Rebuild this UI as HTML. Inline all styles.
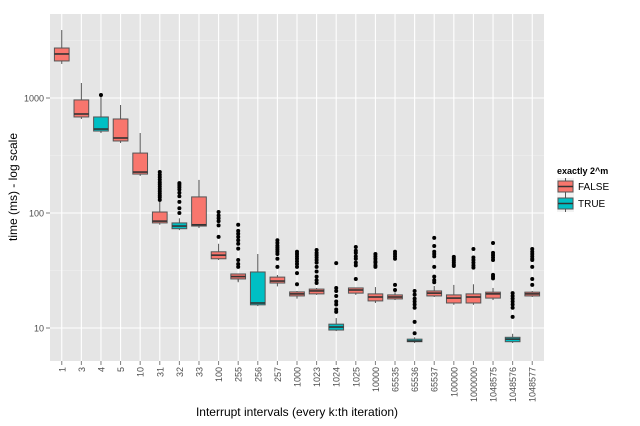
<!DOCTYPE html>
<html><head><meta charset="utf-8"><style>
body{margin:0;background:#fff;}
svg{display:block;font-family:"Liberation Sans",sans-serif;}
</style></head><body>
<svg id="chart" width="640" height="426">
<rect x="50" y="14" width="494" height="347" fill="#E5E5E5"/>
<g id="grid"></g><g id="marks"></g><g id="axes"></g>
<text x="17" y="187" transform="rotate(-90 17 187)" text-anchor="middle" font-size="12">time (ms) - log scale</text>
<text x="297" y="416" text-anchor="middle" font-size="12">Interrupt intervals (every k:th iteration)</text>
<g>
<text x="557" y="174" font-size="9" font-weight="bold">exactly 2^m</text>
<g>
<rect x="557" y="178" width="17" height="17" fill="#F2F2F2"/>
<line x1="565.5" y1="178" x2="565.5" y2="195" stroke="#555"/>
<rect x="558" y="181" width="15" height="11" fill="#F8766D" stroke="#555"/>
<line x1="558" y1="186.5" x2="573" y2="186.5" stroke="#333" stroke-width="1.5"/>
<text x="578" y="190" font-size="10">FALSE</text></g>
<g>
<rect x="557" y="195" width="17" height="17" fill="#F2F2F2"/>
<line x1="565.5" y1="195" x2="565.5" y2="212" stroke="#555"/>
<rect x="558" y="198" width="15" height="11" fill="#00BFC4" stroke="#555"/>
<line x1="558" y1="203.5" x2="573" y2="203.5" stroke="#333" stroke-width="1.5"/>
<text x="578" y="207" font-size="10">TRUE</text></g>
</g>
</svg>
<script>
const categories=["1","3","4","5","10","31","32","33","100","255","256","257","1000","1023","1024","1025","10000","65535","65536","65537","100000","1000000","1048575","1048576","1048577"];
const isPow2=[false,false,true,false,false,false,true,false,false,false,true,false,false,false,true,false,false,false,true,false,false,false,false,true,false];
const whiskerHigh=[3900,1350,1062,869,496,130,90,194,54,25.5,44,28.9,21,22.3,12.2,22.3,22.7,20.5,8.3,23.2,23.7,24,22.3,8.9,21];
const q3=[2720,962,684,657,332,102,82,138,46,29.5,30.7,27.7,20.6,21.8,10.8,22.3,19.8,19.4,8.0,21,19.4,19.8,20.5,8.3,20.5];
const medians=[2415,726,537,449,227,85,77,79,43,28,16.5,25.6,19.8,21,10.2,21.4,18.6,18.6,7.7,20.1,18.2,18.6,19.8,8.0,19.8];
const q1=[2100,684,516,423,218,82,73,77,40,26.7,15.9,24.6,19,19.8,9.6,20.1,17.2,17.9,7.6,19,16.5,16.5,18.2,7.6,19];
const whiskerLow=[1977,657,496,406,210,79,71,74,39,25,15.5,23,18,19.4,9.4,19.4,16.5,17.5,7.4,18.6,15.9,15.9,17.5,7.4,18.6];
const outliers=[[],[],[1062],[],[],
[227,215,205,195,185,178,170,162,155,148,142,137,130],
[182,175,168,160,150,140,125,110,100],
[],
[102,95,90,85,78,62],
[79,70,66,62,58,54,49,39,36,34],
[],
[58,55,52,50,48,46,44,40,34],
[46,44,42,40,38,36,34,30,24],
[47.7,45,43,41,39,37,34,31,28,26,24.6],
[36.7,22.3,21,19,17,16,14.5,13.8],
[50.6,47,45,42,40,37,35,26.7],
[44,42,40,38,37,35,34],
[46,44,42,40,23.7,21.4],
[21,19.5,18,17,16,15,11.3,9],
[60.7,51.7,46,44,42,34,28,26,25],
[41.5,40,38.5,37,35.5,34.6],
[48.6,41,39,37,35,33.5],
[54.9,45,43,41,39,29,28,27],
[20.1,19,18,17,16,15,12.5],
[48.6,46,44,42,40,39,34,26.7,23.7]];
const yTicks=[10,100,1000];
const ns="http://www.w3.org/2000/svg";
const PL=50,PR=544,PT=14,PB=361;
const step=(PR-PL)/(categories.length-1+1.2);
function xs(i){return PL+0.6*step+i*step;}
function ys(v){return 328-115*Math.log10(v/10);}
function mk(tag,attrs,parent){const e=document.createElementNS(ns,tag);for(const k in attrs)e.setAttribute(k,attrs[k]);parent.appendChild(e);return e;}
const grid=document.getElementById('grid'),marks=document.getElementById('marks'),axes=document.getElementById('axes');
// minor grid
for(let k=-1;k<4;k++){const y=ys(Math.pow(10,k+0.5)*10/10);if(y>PT&&y<PB){const l=mk('line',{x1:PL,x2:PR,y1:y,y2:y,stroke:'#F2F2F2','stroke-width':0.6},grid);

}}
yTicks.forEach(t=>{const y=ys(t);
const l=mk('line',{x1:PL,x2:PR,y1:y,y2:y,stroke:'#fff','stroke-width':1.1},grid);


mk('line',{x1:PL-4,x2:PL,y1:y,y2:y,stroke:'#7f7f7f'},axes);
const tx=mk('text',{x:PL-6,y:y+3.5,'text-anchor':'end','font-size':9,fill:'#4d4d4d'},axes);tx.textContent=t;

});
categories.forEach((c,i)=>{const x=xs(i);
const l=mk('line',{x1:x,x2:x,y1:PT,y2:PB,stroke:'#fff','stroke-width':1.1},grid);


mk('line',{x1:x,x2:x,y1:PB,y2:PB+4,stroke:'#7f7f7f'},axes);
const tx=mk('text',{x:x+3.5,y:PB+6,'text-anchor':'end','font-size':9,fill:'#4d4d4d',transform:`rotate(-90 ${x+3.5} ${PB+6})`},axes);tx.textContent=c;


const g=mk('g',{},marks);


const w=step*0.75;
mk('line',{x1:x,x2:x,y1:ys(whiskerHigh[i]),y2:ys(q3[i]),stroke:'#555'},g);
mk('line',{x1:x,x2:x,y1:ys(q1[i]),y2:ys(whiskerLow[i]),stroke:'#555'},g);
mk('rect',{x:x-w/2,y:ys(q3[i]),width:w,height:Math.max(1,ys(q1[i])-ys(q3[i])),fill:isPow2[i]?'#00BFC4':'#F8766D',stroke:'#555','stroke-width':1},g);
mk('line',{x1:x-w/2,x2:x+w/2,y1:ys(medians[i]),y2:ys(medians[i]),stroke:'#333','stroke-width':1.6},g);
outliers[i].forEach(v=>{const p=mk('circle',{cx:x,cy:ys(v),r:2,fill:'#000'},g);

});
});
</script>
</body></html>
